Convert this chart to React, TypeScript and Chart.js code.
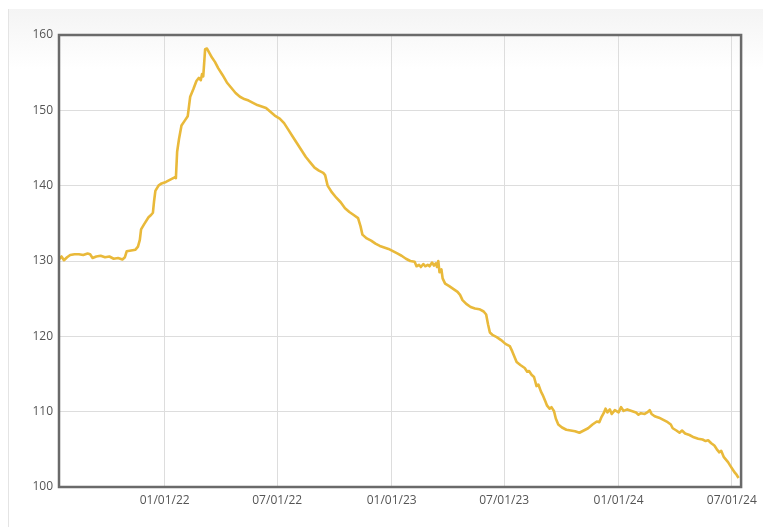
import React, { useEffect, useRef } from "react";
import { Chart, registerables } from "chart.js";

Chart.register(...registerables);

const dates: string[] = [
  "2021-07-15","2021-07-19","2021-07-23","2021-07-28","2021-08-02","2021-08-09","2021-08-16","2021-08-23","2021-08-30","2021-09-03",
  "2021-09-07","2021-09-13","2021-09-20","2021-09-27","2021-10-04","2021-10-11","2021-10-18","2021-10-25","2021-10-29","2021-11-01",
  "2021-11-08","2021-11-15","2021-11-19","2021-11-22","2021-11-24","2021-11-29","2021-12-06","2021-12-10","2021-12-13","2021-12-15",
  "2021-12-17","2021-12-22","2021-12-27","2022-01-03","2022-01-10","2022-01-17","2022-01-19","2022-01-21","2022-01-24","2022-01-28",
  "2022-02-02","2022-02-07","2022-02-09","2022-02-11","2022-02-16","2022-02-21","2022-02-25","2022-02-28","2022-03-02","2022-03-04",
  "2022-03-07","2022-03-10","2022-03-14","2022-03-18","2022-03-23","2022-03-28","2022-04-04","2022-04-11","2022-04-18","2022-04-25",
  "2022-05-02","2022-05-09","2022-05-16","2022-05-23","2022-05-30","2022-06-06","2022-06-13","2022-06-20","2022-06-27","2022-07-05",
  "2022-07-12","2022-07-19","2022-07-26","2022-08-02","2022-08-09","2022-08-16","2022-08-23","2022-08-30","2022-09-06","2022-09-13",
  "2022-09-16","2022-09-20","2022-09-27","2022-10-04","2022-10-11","2022-10-18","2022-10-25","2022-11-01","2022-11-08","2022-11-12",
  "2022-11-15","2022-11-22","2022-11-29","2022-12-06","2022-12-13","2022-12-20","2022-12-27","2023-01-03","2023-01-10","2023-01-17",
  "2023-01-24","2023-01-31","2023-02-07","2023-02-10","2023-02-14","2023-02-17","2023-02-21","2023-02-24","2023-02-28","2023-03-03",
  "2023-03-07","2023-03-10","2023-03-13","2023-03-15","2023-03-17","2023-03-19","2023-03-22","2023-03-24","2023-03-28","2023-04-03",
  "2023-04-10","2023-04-17","2023-04-21","2023-04-25","2023-05-01","2023-05-08","2023-05-15","2023-05-22","2023-05-29","2023-06-02",
  "2023-06-05","2023-06-08","2023-06-12","2023-06-19","2023-06-26","2023-07-03","2023-07-10","2023-07-14","2023-07-18","2023-07-21",
  "2023-07-27","2023-08-03","2023-08-07","2023-08-10","2023-08-14","2023-08-18","2023-08-22","2023-08-25","2023-08-29","2023-09-01",
  "2023-09-05","2023-09-08","2023-09-12","2023-09-15","2023-09-19","2023-09-22","2023-09-26","2023-10-02","2023-10-09","2023-10-16",
  "2023-10-23","2023-10-30","2023-11-06","2023-11-13","2023-11-20","2023-11-27","2023-12-01","2023-12-04","2023-12-08","2023-12-11",
  "2023-12-14","2023-12-18","2023-12-21","2023-12-26","2024-01-01","2024-01-05","2024-01-09","2024-01-15","2024-01-22","2024-01-29",
  "2024-02-02","2024-02-06","2024-02-12","2024-02-16","2024-02-20","2024-02-23","2024-02-28","2024-03-06","2024-03-13","2024-03-20",
  "2024-03-25","2024-03-28","2024-04-03","2024-04-08","2024-04-12","2024-04-17","2024-04-24","2024-05-01","2024-05-08","2024-05-15",
  "2024-05-20","2024-05-24","2024-05-29","2024-06-03","2024-06-07","2024-06-11","2024-06-14","2024-06-18","2024-06-21","2024-06-25",
  "2024-06-28","2024-07-02","2024-07-06","2024-07-09","2024-07-12",
];

const values: number[] = [
  130.2,130.6,130.1,130.5,130.8,130.9,130.9,130.8,131.0,130.9,
  130.4,130.6,130.7,130.5,130.6,130.3,130.4,130.2,130.5,131.3,
  131.4,131.5,131.9,132.8,134.2,134.9,135.8,136.1,136.4,138.0,
  139.3,140.0,140.3,140.5,140.8,141.1,141.0,144.5,146.2,148.0,
  148.6,149.2,150.5,151.8,152.8,153.9,154.3,154.0,154.8,154.5,
  158.1,158.2,157.6,157.0,156.4,155.6,154.7,153.7,153.0,152.3,
  151.8,151.5,151.3,151.0,150.7,150.5,150.3,149.8,149.3,148.9,
  148.3,147.4,146.5,145.6,144.7,143.8,143.1,142.4,142.0,141.7,
  141.4,140.0,139.1,138.4,137.8,137.0,136.5,136.1,135.7,134.6,
  133.5,133.0,132.7,132.3,132.0,131.8,131.6,131.3,131.0,130.7,
  130.3,130.0,129.9,129.3,129.5,129.2,129.6,129.3,129.5,129.3,
  129.8,129.4,129.7,129.2,130.0,128.5,128.9,127.7,127.0,126.7,
  126.3,125.9,125.5,124.8,124.3,123.9,123.7,123.6,123.3,122.9,
  121.6,120.5,120.2,119.9,119.5,119.0,118.7,118.0,117.2,116.6,
  116.2,115.8,115.3,115.4,114.9,114.6,113.4,113.6,112.7,112.2,
  111.4,110.8,110.4,110.6,110.1,109.1,108.3,107.9,107.6,107.5,
  107.4,107.2,107.5,107.8,108.3,108.7,108.6,109.2,109.8,110.4,
  109.9,110.3,109.7,110.2,109.9,110.6,110.1,110.3,110.1,109.9,
  109.6,109.8,109.7,109.9,110.2,109.7,109.4,109.2,108.9,108.6,
  108.3,107.8,107.5,107.2,107.5,107.1,106.9,106.6,106.4,106.3,
  106.1,106.2,105.8,105.5,105.0,104.6,104.8,104.0,103.7,103.3,
  102.9,102.4,101.9,101.6,101.2,
];

const xTickDates: string[] = ["2022-01-01", "2022-07-01", "2023-01-01", "2023-07-01", "2024-01-01", "2024-07-01"];
const xRange: string[] = ["2021-07-15", "2024-07-16"];
const yMin = 100;
const yMax = 160;
const yStep = 10;

const toMs = (s: string) => Date.parse(s + "T00:00:00Z");
const fmt = (ms: number) => {
  const d = new Date(ms);
  const mm = String(d.getUTCMonth() + 1).padStart(2, "0");
  const dd = String(d.getUTCDate()).padStart(2, "0");
  const yy = String(d.getUTCFullYear() % 100).padStart(2, "0");
  return `${mm}/${dd}/${yy}`;
};

const borderPlugin = {
  id: "plotBorder",
  afterDraw(chart: any) {
    const { ctx, chartArea } = chart;
    ctx.save();
    ctx.strokeStyle = "#6a6a6a";
    ctx.lineWidth = 2.5;
    ctx.strokeRect(chartArea.left, chartArea.top, chartArea.right - chartArea.left, chartArea.bottom - chartArea.top);
    ctx.restore();
  },
};

export default function App() {
  const ref = useRef<HTMLCanvasElement | null>(null);
  useEffect(() => {
    if (!ref.current) return;
    const points = dates.map((d, i) => ({ x: toMs(d), y: values[i] }));
    const font = { family: "'Open Sans', 'Noto Sans', sans-serif", size: 12 };
    const chart = new Chart(ref.current, {
      type: "line",
      data: {
        datasets: [
          {
            data: points,
            borderColor: "#e9b93a",
            borderWidth: 2.6,
            borderJoinStyle: "round",
            pointRadius: 0,
            tension: 0,
            fill: false,
          },
        ],
      },
      options: {
        animation: false,
        responsive: false,
        maintainAspectRatio: false,
        layout: { padding: { top: 26, right: 19, left: 0, bottom: 0 } },
        plugins: { legend: { display: false }, tooltip: { enabled: false } },
        scales: {
          x: {
            type: "linear",
            min: toMs(xRange[0]),
            max: toMs(xRange[1]),
            afterBuildTicks: (scale: any) => {
              scale.ticks = xTickDates.map((d) => ({ value: toMs(d) }));
            },
            afterFit: (scale: any) => {
              scale.height = 40;
            },
            ticks: {
              callback: (v: any) => fmt(Number(v)),
              color: "#555",
              font,
              padding: 6,
              maxRotation: 0,
              autoSkip: false,
            },
            grid: { color: "#dddddd", drawTicks: false, lineWidth: 1 },
            border: { display: false },
          },
          y: {
            min: yMin,
            max: yMax,
            afterFit: (scale: any) => {
              scale.width = 50;
            },
            ticks: { stepSize: yStep, color: "#555", font, padding: 6 },
            grid: { color: "#dddddd", drawTicks: false, lineWidth: 1 },
            border: { display: false },
          },
        },
      },
      plugins: [borderPlugin],
    });
    return () => chart.destroy();
  }, []);
  return (
    <div
      style={{
        position: "absolute",
        left: 8,
        top: 9,
        width: 755,
        height: 518,
        background: "linear-gradient(#f4f4f4 0px, #ffffff 60px)",
        borderLeft: "1px solid #e4e4e4",
        boxSizing: "border-box",
      }}
    >
      <canvas ref={ref} width={754} height={518} style={{ display: "block" }} />
    </div>
  );
}
